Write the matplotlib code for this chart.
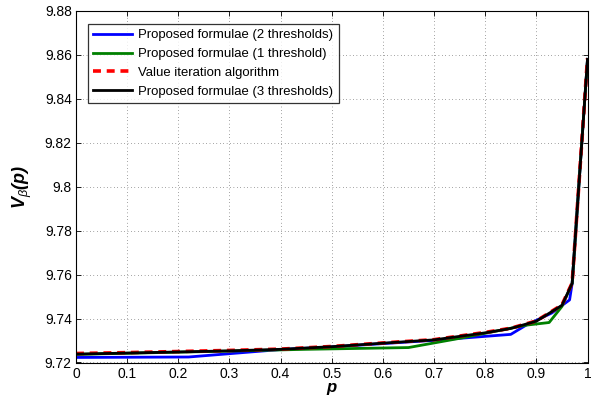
import matplotlib
matplotlib.use("Agg")
import matplotlib.pyplot as plt

plt.rcParams['font.family'] = ['Liberation Sans', 'DejaVu Sans']
plt.rcParams['mathtext.fontset'] = 'custom'
plt.rcParams['mathtext.rm'] = 'Liberation Sans'
plt.rcParams['mathtext.it'] = 'Liberation Sans:italic'
plt.rcParams['mathtext.bf'] = 'Liberation Sans:bold'
plt.rcParams['mathtext.bfit'] = 'Liberation Sans:bold:italic'

# Proposed formulae (2 thresholds)
p_two = [0.0, 0.22, 0.4, 0.5, 0.6, 0.7, 0.75, 0.85, 0.88, 0.93, 0.965, 0.97, 1.0]
v_two = [9.7223, 9.7225, 9.7259, 9.7271, 9.7286, 9.7301, 9.7310, 9.7328, 9.7370,
         9.7425, 9.7485, 9.7560, 9.8580]

# Proposed formulae (1 threshold)
p_one = [0.0, 0.1, 0.2, 0.3, 0.45, 0.65, 0.75, 0.8, 0.88, 0.925, 0.95, 0.97, 1.0]
v_one = [9.7237, 9.7242, 9.7247, 9.7252, 9.7260, 9.7268, 9.7310, 9.7333, 9.7370,
         9.7382, 9.7455, 9.7560, 9.8580]

# Value iteration algorithm
p_vi = [0.0, 0.1, 0.2, 0.3, 0.4, 0.5, 0.6, 0.7, 0.8, 0.85, 0.9, 0.95, 0.97, 1.0]
v_vi = [9.7241, 9.7245, 9.7250, 9.7255, 9.7261, 9.7273, 9.7289, 9.7304, 9.7337,
        9.7356, 9.7389, 9.7462, 9.7562, 9.8585]

# Proposed formulae (3 thresholds)
p_three = [0.0, 0.1, 0.2, 0.3, 0.4, 0.5, 0.6, 0.7, 0.8, 0.85, 0.9, 0.95, 0.97, 1.0]
v_three = [9.7238, 9.7243, 9.7248, 9.7253, 9.7260, 9.7272, 9.7288, 9.7303, 9.7335,
           9.7355, 9.7388, 9.7460, 9.7560, 9.8580]

x_ticks = [0, 0.1, 0.2, 0.3, 0.4, 0.5, 0.6, 0.7, 0.8, 0.9, 1]
x_tick_labels = ['0', '0.1', '0.2', '0.3', '0.4', '0.5', '0.6', '0.7', '0.8', '0.9', '1']
y_ticks = [9.72, 9.74, 9.76, 9.78, 9.80, 9.82, 9.84, 9.86, 9.88]
y_tick_labels = ['9.72', '9.74', '9.76', '9.78', '9.8', '9.82', '9.84', '9.86', '9.88']

fig = plt.figure(figsize=(5.91, 4.04), dpi=100)
ax = fig.add_axes([76 / 591, 1 - 362.5 / 404, (587.5 - 76) / 591, (362.5 - 11) / 404])

ax.plot(p_two, v_two, color='#0000ff', lw=2.0, label='Proposed formulae (2 thresholds)')
ax.plot(p_one, v_one, color='#008000', lw=2.0, label='Proposed formulae (1 threshold)')
ax.plot(p_vi, v_vi, color='#ff0000', lw=2.6, ls=(0, (2.2, 1.6)), label='Value iteration algorithm')
ax.plot(p_three, v_three, color='black', lw=2.0, label='Proposed formulae (3 thresholds)')

ax.set_xlim(0, 1)
ax.set_ylim(9.72, 9.88)
ax.set_xticks(x_ticks)
ax.set_xticklabels(x_tick_labels)
ax.set_yticks(y_ticks)
ax.set_yticklabels(y_tick_labels)
ax.tick_params(direction='in', length=3.5, width=0.6, labelsize=10, top=True, right=True,
               colors='black', pad=3)
ax.grid(True, color='black', ls=(0, (0.6, 3.5)), lw=0.6, alpha=0.8)
for s in ax.spines.values():
    s.set_linewidth(0.8)

ax.set_xlabel(r'$\mathbfit{p}$', fontsize=12, labelpad=0)
ax.set_ylabel(r'$\mathbfit{V}_{\beta}\mathbfit{(p)}$', fontsize=13, labelpad=8)

leg = ax.legend(loc='upper left', bbox_to_anchor=(0.023, 0.963), fontsize=9.45,
                frameon=True, fancybox=False, edgecolor='black', borderpad=0.4,
                handlelength=3.0, handletextpad=0.45, labelspacing=0.5, borderaxespad=0)
leg.get_frame().set_linewidth(0.9)

fig.savefig('out.png', dpi=100)
